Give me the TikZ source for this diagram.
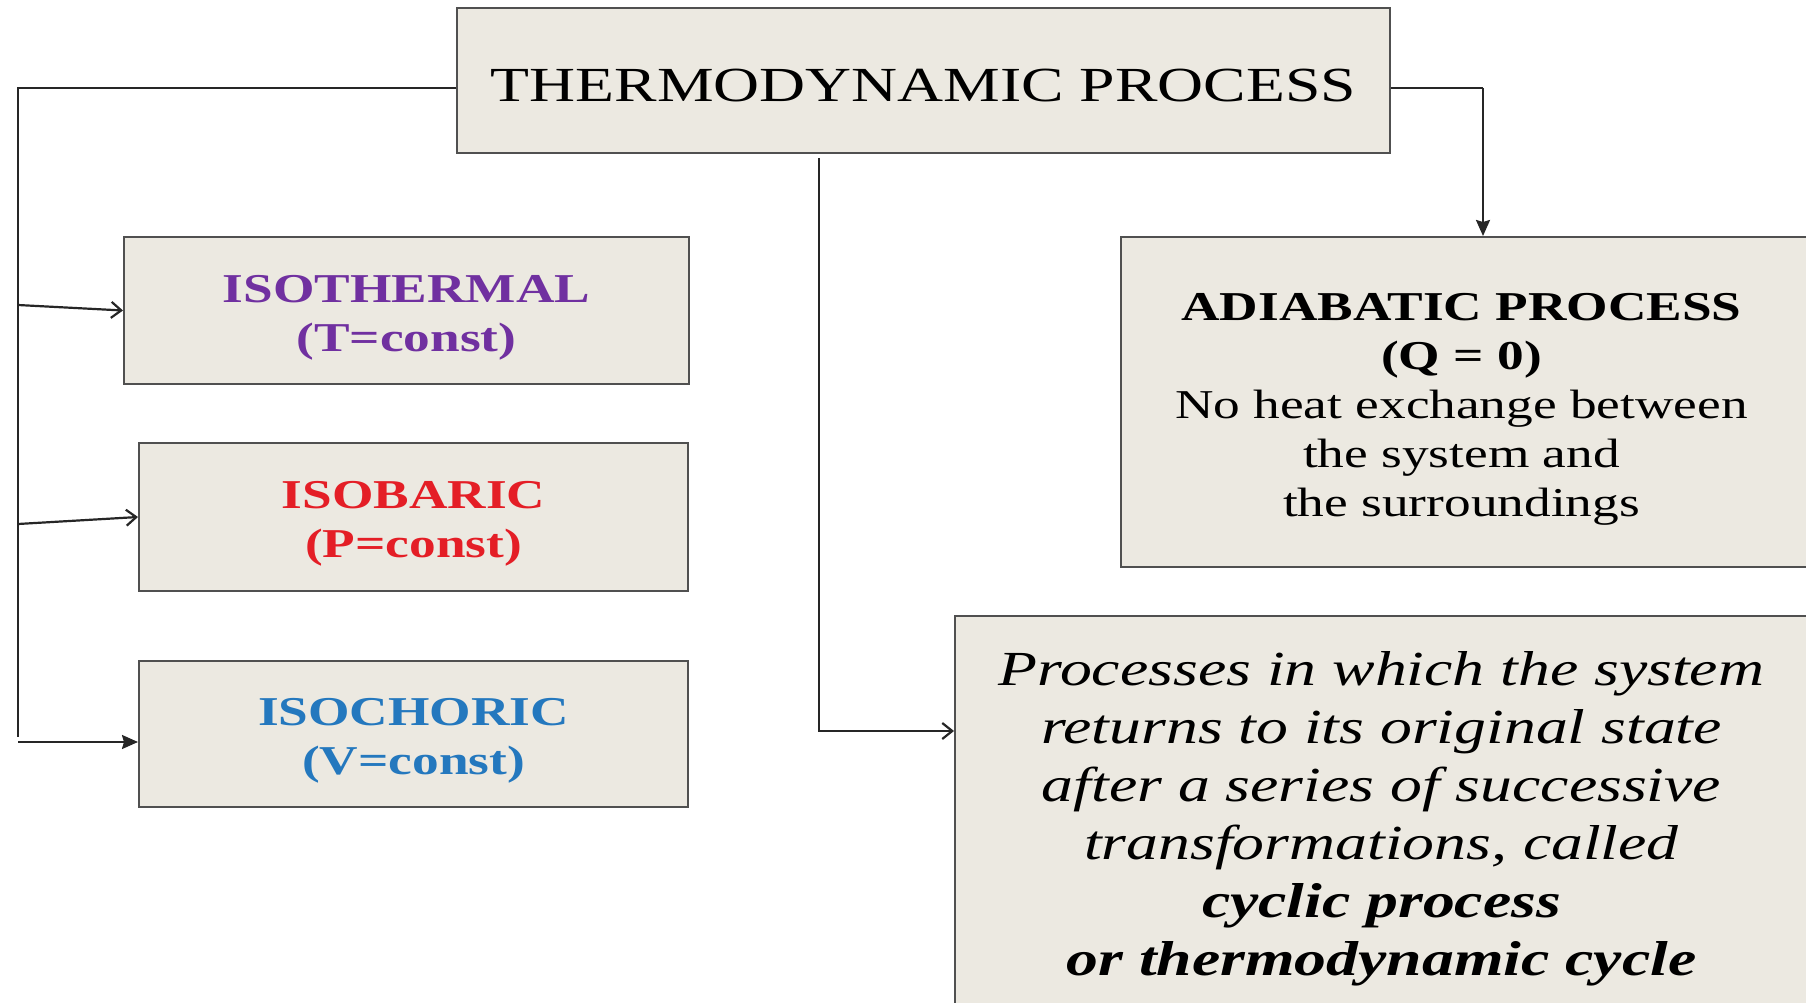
\documentclass[tikz,border=0pt]{standalone}
\usepackage{fontspec}
\setmainfont[FakeStretch=1.3]{Liberation Serif}
\usetikzlibrary{arrows.meta}
\definecolor{boxfill}{HTML}{ECE9E1}
\definecolor{boxline}{HTML}{505050}
\definecolor{cpurple}{HTML}{7030A0}
\definecolor{cred}{HTML}{E41E26}
\definecolor{cblue}{HTML}{2478BE}
\tikzset{
  procbox/.style={draw=boxline, line width=2pt, fill=boxfill, inner sep=0pt},
  boxtext/.style={align=center, inner sep=0pt},
  conn/.style={line width=2.2pt, draw=black!85},
  openarrow/.style={conn, -{Straight Barb[length=10pt,width=16pt,line width=2.2pt]}},
  fillarrow/.style={conn, -{Stealth[length=16pt,width=14pt,inset=2pt]}},
  titlefont/.style={font=\fontsize{49}{58}\selectfont},
  labfont/.style={font=\fontsize{41}{49}\selectfont\bfseries},
  adifont/.style={font=\fontsize{41}{49}\selectfont},
  cycfont/.style={font=\fontsize{49}{58}\selectfont\itshape}
}
\begin{document}
\begin{tikzpicture}[x=1pt,y=-1pt]
\useasboundingbox (0,0) rectangle (1806,1003);
\begin{scope}
\clip (0,0) rectangle (1806,1003);

% boxes
\node[procbox, minimum width=933pt, minimum height=145pt] (top) at (923.5,80.5) {};
\node[procbox, minimum width=565pt, minimum height=147pt] (iso1) at (406.5,310.5) {};
\node[procbox, minimum width=549pt, minimum height=148pt] (iso2) at (413.5,517) {};
\node[procbox, minimum width=549pt, minimum height=146pt] (iso3) at (413.5,734) {};
\node[procbox, minimum width=687pt, minimum height=330pt] (adi) at (1464.5,402) {};
\node[procbox, minimum width=853pt, minimum height=394pt] (cyc) at (1381.5,813) {};

% texts
\node[boxtext, titlefont] (toptxt) at ([yshift=-5pt]top.center) {THERMODYNAMIC PROCESS};
\node[boxtext, labfont, text=cpurple] (iso1txt) at ([yshift=-7pt]iso1.center) {ISOTHERMAL\\(T=const)};
\node[boxtext, labfont, text=cred] (iso2txt) at ([yshift=-7pt]iso2.center) {ISOBARIC\\(P=const)};
\node[boxtext, labfont, text=cblue] (iso3txt) at ([yshift=-7pt]iso3.center) {ISOCHORIC\\(V=const)};
\node[boxtext, adifont] (aditxt) at ([yshift=-7pt,xshift=-3pt]adi.center) {\textbf{ADIABATIC PROCESS}\\\textbf{(Q = 0)}\\No heat exchange between\\the system and\\the surroundings};
\node[boxtext, cycfont] (cyctxt) at ([yshift=-6pt]cyc.center) {Processes in which the system\\returns to its original state\\after a series of successive\\transformations, called\\\textbf{cyclic process}\\\textbf{or thermodynamic cycle}};

% coordinates
\coordinate (L1) at (18,88);
\coordinate (L2) at (18,737);
\coordinate (a1) at (18,305);
\coordinate (a2) at (18,524);
\coordinate (a3) at (18,742);
\coordinate (M1) at (819,158);
\coordinate (M2) at (819,731);
\coordinate (R1) at (1483,88);

% left branch
\draw[conn] (top.west |- L1) -- (L1) -- (L2);
\draw[openarrow] (a1) -- (iso1.west);
\draw[openarrow] (a2) -- (iso2.west);
\draw[fillarrow] (a3) -- (iso3.west |- a3);

% middle branch
\draw[openarrow] (M1) -- (M2) -- (cyc.west |- M2);

% right branch
\draw[conn] (top.east |- R1) -- (R1);
\draw[fillarrow] (R1) -- (R1 |- adi.north);
\end{scope}
\end{tikzpicture}
\end{document}
